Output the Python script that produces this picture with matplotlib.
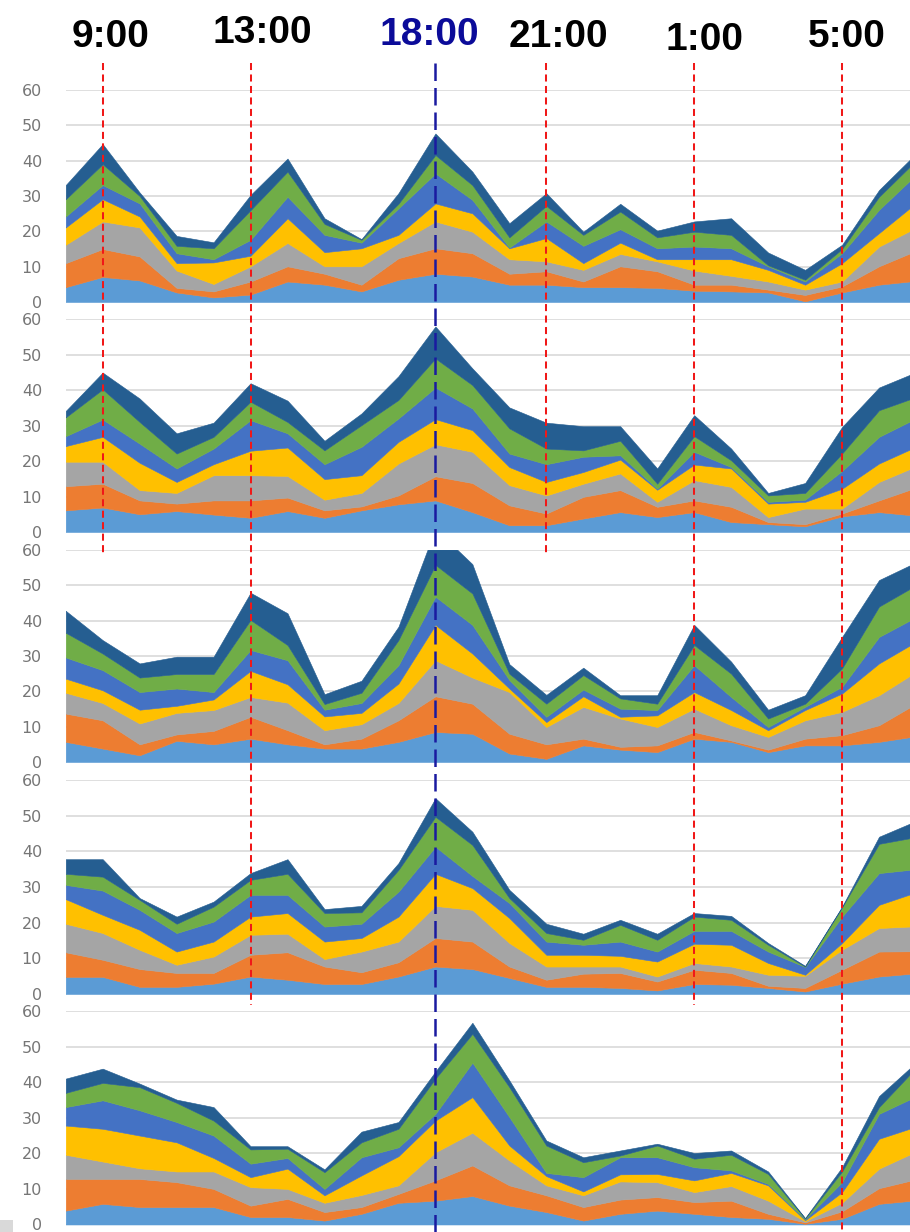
import matplotlib
matplotlib.use("Agg")
import matplotlib.pyplot as plt
from matplotlib.patches import Rectangle

# ---------------- data ----------------
hours = ['8:00', '9:00', '10:00', '11:00', '12:00', '13:00', '14:00', '15:00',
         '16:00', '17:00', '18:00', '19:00', '20:00', '21:00', '22:00', '23:00',
         '0:00', '1:00', '2:00', '3:00', '4:00', '5:00', '6:00', '7:00']

series_names = ['S1', 'S2', 'S3', 'S4', 'S5', 'S6', 'S7']

# panel 1
p1_s1 = [4.2, 7.1, 6.1, 2.7, 1.3, 2.1, 5.8, 4.9, 3.0, 6.3, 8.0, 7.2, 4.9, 4.9, 4.2, 4.2, 4.0, 3.2, 3.0, 2.7, 0.2, 2.7, 4.9, 6.0]
p1_s2 = [6.8, 7.9, 6.8, 1.3, 1.7, 3.7, 4.3, 3.1, 1.9, 6.1, 7.2, 6.6, 3.1, 3.8, 1.6, 5.9, 4.7, 1.7, 1.9, 0.8, 1.8, 1.7, 5.2, 8.5]
p1_s3 = [5.2, 7.8, 8.2, 4.9, 2.1, 4.3, 6.6, 2.1, 5.2, 4.3, 7.6, 6.1, 4.1, 2.8, 3.3, 3.5, 2.8, 4.0, 2.5, 2.3, 1.5, 1.4, 5.6, 6.5]
p1_s4 = [4.9, 6.3, 3.1, 2.1, 6.1, 3.0, 7.0, 4.0, 5.1, 2.3, 5.1, 5.2, 3.1, 6.6, 1.9, 3.2, 0.6, 3.2, 4.7, 3.3, 1.4, 5.2, 3.8, 7.0]
p1_s5 = [3.1, 4.0, 3.7, 2.8, 0.9, 4.5, 6.1, 4.9, 1.6, 7.5, 8.5, 3.8, 0.2, 4.7, 4.9, 3.8, 3.1, 3.6, 3.1, 1.0, 0.9, 2.8, 6.6, 8.0]
p1_s6 = [4.9, 5.9, 2.1, 2.1, 3.1, 8.4, 7.1, 3.1, 0.8, 1.3, 5.2, 4.2, 2.9, 4.4, 3.1, 5.0, 3.1, 4.2, 3.8, 0.3, 0.5, 1.2, 3.7, 4.0]
p1_s7 = [4.0, 5.7, 1.0, 2.8, 1.7, 4.3, 3.7, 1.6, 0.2, 3.0, 6.1, 3.8, 4.0, 3.6, 0.9, 2.2, 1.9, 2.9, 4.7, 3.6, 2.8, 1.2, 1.9, 2.0]

# panel 2
p2_s1 = [6.1, 6.9, 5.0, 5.9, 4.9, 4.0, 5.9, 4.0, 6.1, 7.8, 8.9, 5.6, 1.9, 1.9, 3.8, 5.6, 4.2, 5.6, 2.8, 2.2, 1.6, 4.4, 5.6, 4.6]
p2_s2 = [6.8, 6.7, 3.9, 2.1, 4.0, 4.9, 3.8, 2.1, 1.1, 2.5, 6.8, 8.2, 5.6, 3.3, 6.1, 6.2, 2.9, 3.3, 4.3, 0.6, 0.6, 0.8, 3.3, 7.9]
p2_s3 = [6.9, 6.2, 2.9, 3.0, 7.1, 7.1, 6.1, 3.0, 3.8, 9.0, 9.0, 8.8, 5.7, 5.1, 3.7, 4.7, 1.4, 5.7, 5.6, 1.4, 4.4, 1.4, 5.2, 6.0]
p2_s4 = [4.4, 7.0, 7.7, 3.1, 3.1, 6.9, 8.0, 5.8, 5.0, 6.1, 7.1, 6.1, 5.1, 3.8, 3.3, 3.9, 3.4, 4.4, 5.2, 3.8, 1.9, 5.6, 5.2, 5.5]
p2_s5 = [2.8, 4.9, 5.4, 3.8, 4.4, 8.6, 4.0, 4.2, 8.0, 6.6, 8.9, 6.1, 3.8, 5.0, 4.3, 1.2, 0.3, 3.6, 0.4, 0.5, 0.6, 5.0, 7.5, 8.0]
p2_s6 = [5.3, 8.5, 6.1, 4.2, 3.3, 5.2, 3.2, 3.9, 6.1, 5.2, 8.2, 6.6, 7.1, 4.4, 1.8, 4.1, 1.4, 4.4, 1.9, 1.8, 1.9, 4.9, 7.5, 6.0]
p2_s7 = [1.8, 4.7, 6.6, 5.7, 4.0, 5.2, 6.0, 2.7, 3.3, 6.7, 9.0, 4.7, 5.9, 7.3, 6.8, 4.1, 4.3, 5.9, 3.3, 0.7, 2.8, 7.5, 6.4, 7.0]

# panel 3
p3_s1 = [5.7, 3.8, 1.9, 6.0, 5.0, 6.6, 5.0, 3.8, 3.8, 5.7, 8.5, 8.0, 2.4, 0.9, 4.7, 3.5, 2.8, 6.6, 5.7, 2.8, 4.7, 4.7, 5.7, 7.3]
p3_s2 = [8.0, 8.0, 3.1, 1.8, 3.8, 6.2, 4.0, 1.2, 2.8, 6.1, 10.1, 8.5, 5.6, 4.1, 1.9, 0.8, 1.9, 1.9, 0.4, 0.7, 1.9, 2.9, 4.7, 9.2]
p3_s3 = [5.9, 4.9, 5.9, 6.1, 5.9, 5.6, 7.8, 4.0, 4.1, 4.9, 10.2, 7.4, 11.8, 4.9, 9.0, 8.0, 5.2, 6.6, 4.3, 3.6, 5.2, 6.6, 8.5, 9.0]
p3_s4 = [4.0, 3.6, 3.9, 2.0, 3.0, 7.4, 5.2, 3.9, 3.2, 5.5, 10.0, 6.8, 1.0, 1.4, 3.0, 0.5, 3.3, 4.7, 4.3, 1.9, 2.9, 5.2, 9.0, 8.5]
p3_s5 = [6.0, 5.7, 5.0, 4.9, 2.1, 5.9, 6.8, 1.9, 2.8, 5.2, 8.0, 8.1, 2.4, 1.5, 1.9, 2.3, 1.5, 7.6, 3.7, 0.9, 0.9, 1.9, 7.5, 7.0]
p3_s6 = [7.0, 4.7, 4.1, 4.1, 5.1, 8.5, 4.3, 1.6, 2.9, 7.1, 9.0, 8.9, 1.8, 3.7, 4.1, 2.9, 1.8, 5.7, 6.6, 2.4, 0.9, 5.2, 8.6, 9.0]
p3_s7 = [6.2, 3.8, 4.0, 4.9, 4.9, 7.7, 9.0, 2.8, 3.4, 3.8, 10.2, 8.3, 2.7, 2.5, 2.1, 0.9, 2.4, 5.7, 3.4, 2.5, 2.4, 8.9, 7.5, 6.5]

# panel 4
p4_s1 = [4.8, 4.8, 2.0, 2.0, 2.9, 4.9, 4.0, 2.8, 2.8, 4.9, 7.7, 7.0, 4.5, 2.0, 2.0, 1.7, 1.0, 2.8, 2.6, 1.7, 0.7, 2.9, 4.9, 5.8]
p4_s2 = [6.9, 4.8, 5.0, 3.9, 3.0, 6.1, 7.7, 4.9, 3.3, 4.0, 8.0, 7.7, 3.2, 2.0, 3.7, 4.2, 2.5, 4.0, 3.3, 0.6, 1.0, 3.9, 7.0, 6.2]
p4_s3 = [8.0, 7.5, 5.4, 2.3, 4.6, 5.6, 5.2, 2.1, 5.8, 5.8, 9.0, 8.9, 6.6, 3.7, 2.0, 1.8, 1.4, 1.9, 1.8, 3.1, 3.4, 5.6, 6.6, 7.0]
p4_s4 = [6.9, 5.1, 5.6, 3.7, 4.2, 5.1, 5.8, 4.9, 3.8, 7.0, 9.0, 6.1, 7.0, 3.3, 3.3, 3.0, 4.2, 5.4, 6.1, 3.3, 0.3, 1.9, 6.5, 9.5]
p4_s5 = [4.0, 6.8, 5.6, 5.2, 5.6, 6.1, 5.1, 4.2, 4.0, 7.0, 7.6, 3.4, 4.2, 3.7, 2.8, 4.0, 2.8, 3.6, 3.9, 3.2, 2.2, 7.4, 8.9, 6.5]
p4_s6 = [3.1, 3.9, 2.8, 2.6, 4.2, 4.2, 5.9, 3.8, 3.2, 6.1, 8.4, 8.7, 1.4, 2.4, 1.4, 4.7, 3.3, 4.0, 3.1, 1.9, 0.1, 2.6, 8.2, 9.0]
p4_s7 = [4.1, 4.9, 0.5, 2.0, 1.4, 1.9, 4.1, 1.1, 1.8, 1.9, 5.2, 3.7, 2.3, 2.6, 1.7, 1.4, 1.7, 1.0, 1.1, 0.5, 0.2, 0.2, 2.0, 4.5]

# panel 5
p5_s1 = [3.9, 5.8, 4.9, 4.9, 4.9, 2.1, 2.1, 1.1, 3.0, 6.1, 6.7, 8.0, 5.3, 3.5, 1.1, 3.0, 3.9, 3.0, 2.1, 1.6, 0.2, 1.6, 5.8, 6.8]
p5_s2 = [8.9, 7.0, 7.9, 7.0, 5.1, 3.2, 5.1, 2.4, 1.9, 2.5, 5.7, 8.6, 5.7, 4.7, 3.8, 4.0, 3.8, 3.3, 4.6, 1.4, 0.4, 2.1, 4.4, 5.9]
p5_s3 = [6.8, 4.9, 3.0, 3.0, 4.9, 5.2, 2.8, 2.6, 3.4, 2.4, 7.9, 9.2, 7.0, 2.8, 3.3, 5.1, 4.2, 2.8, 4.1, 3.7, 0.3, 2.4, 5.5, 7.8]
p5_s4 = [8.2, 9.2, 9.2, 8.2, 3.8, 2.8, 5.7, 2.1, 5.5, 8.2, 8.9, 10.0, 4.2, 2.6, 1.1, 2.0, 2.3, 3.3, 3.7, 4.3, 0.3, 3.0, 8.4, 7.0]
p5_s5 = [5.2, 8.0, 7.1, 5.7, 6.3, 3.8, 3.0, 1.8, 5.1, 2.5, 1.9, 9.7, 8.0, 0.9, 4.0, 4.8, 4.7, 3.7, 0.7, 0.4, 0.3, 2.8, 7.0, 8.5]
p5_s6 = [4.0, 4.9, 6.5, 5.4, 4.2, 4.0, 2.6, 4.7, 4.2, 5.2, 9.9, 8.1, 8.4, 7.7, 4.2, 0.5, 3.3, 2.4, 4.4, 2.8, 0.2, 3.0, 1.9, 8.0]
p5_s7 = [4.0, 4.0, 1.0, 0.9, 3.8, 0.9, 0.7, 0.8, 3.0, 1.9, 2.0, 3.1, 1.9, 1.4, 1.4, 1.4, 0.5, 1.6, 1.2, 0.7, 0.1, 1.2, 3.1, 1.5]

panels = [
    [p1_s1, p1_s2, p1_s3, p1_s4, p1_s5, p1_s6, p1_s7],
    [p2_s1, p2_s2, p2_s3, p2_s4, p2_s5, p2_s6, p2_s7],
    [p3_s1, p3_s2, p3_s3, p3_s4, p3_s5, p3_s6, p3_s7],
    [p4_s1, p4_s2, p4_s3, p4_s4, p4_s5, p4_s6, p4_s7],
    [p5_s1, p5_s2, p5_s3, p5_s4, p5_s5, p5_s6, p5_s7],
]

y_ticks = [0, 10, 20, 30, 40, 50, 60]
marker_labels = ['9:00', '13:00', '18:00', '21:00', '1:00', '5:00']

# ---------------- style / layout ----------------
colors = ['#5B9BD5', '#ED7D31', '#A5A5A5', '#FFC000', '#4472C4', '#70AD47', '#255E91']
W, H = 910, 1232
left_px = 65.7
px_per_step = 36.97
panel_px = [(90, 302), (319, 532), (550, 762), (780, 994), (1011, 1224.5)]  # (y of 60, y of 0)

# marker styles: (line top px, line bottom px, color, dash, label dx in steps, label baseline px, label color)
marker_style = {
    '9:00':  (63, 555, '#f01818', (3.5, 2.2), 0.22, 47, 'black'),
    '13:00': (63, 1005, '#f01818', (3.5, 2.2), 0.32, 43, 'black'),
    '18:00': (63, 1232, '#1a1aa0', (7.0, 2.8), -0.16, 45, '#0b0b99'),
    '21:00': (63, 555, '#f01818', (3.5, 2.2), 0.32, 47, 'black'),
    '1:00':  (63, 1005, '#f01818', (3.5, 2.2), 0.27, 50, 'black'),
    '5:00':  (63, 1232, '#f01818', (3.5, 2.2), 0.14, 47, 'black'),
}

x_max = (W - left_px) / px_per_step

fig = plt.figure(figsize=(W / 100, H / 100), dpi=100)
fig.patch.set_facecolor('white')

x = list(range(len(hours)))
for data, (ytop, ybot) in zip(panels, panel_px):
    ax = fig.add_axes([left_px / W, 1 - ybot / H, (W - left_px) / W, (ybot - ytop) / H])
    ax.stackplot(x, *data, colors=colors, labels=series_names,
                 linewidth=0.4, edgecolor='face')
    ax.set_xlim(0, x_max)
    ax.set_ylim(0, 60)
    ax.set_yticks(y_ticks)
    ax.set_xticks([])
    ax.set_axisbelow(True)
    ax.yaxis.grid(True, color='#d9d9d9', linewidth=1.2)
    for s in ax.spines.values():
        s.set_visible(False)
    ax.tick_params(axis='y', length=0, pad=17, labelsize=11.5, labelcolor='#767676')
    for lbl in ax.get_yticklabels():
        lbl.set_fontfamily('DejaVu Sans')

# overlay for time markers
ov = fig.add_axes([left_px / W, 0, (W - left_px) / W, 1])
ov.set_xlim(0, x_max)
ov.set_ylim(H, 0)
ov.axis('off')
ov.patch.set_alpha(0)
for lab in marker_labels:
    xi = hours.index(lab)
    y0, y1, col, dash, dx, base, tcol = marker_style[lab]
    lw = 1.8 if lab == '18:00' else 1.45
    ov.plot([xi, xi], [y0, y1], color=col, linewidth=lw, dashes=dash,
            solid_capstyle='butt', dash_capstyle='butt', clip_on=False)
    ov.text(xi + dx, base, lab, ha='center', va='baseline', fontsize=28,
            fontweight='bold', family='Liberation Sans', color=tcol)

fig.add_artist(Rectangle((0, 0), 13 / W, 12 / H, transform=fig.transFigure,
                         facecolor='#d9d9d9', edgecolor='none'))

fig.savefig('out.png', dpi=100, facecolor='white')
